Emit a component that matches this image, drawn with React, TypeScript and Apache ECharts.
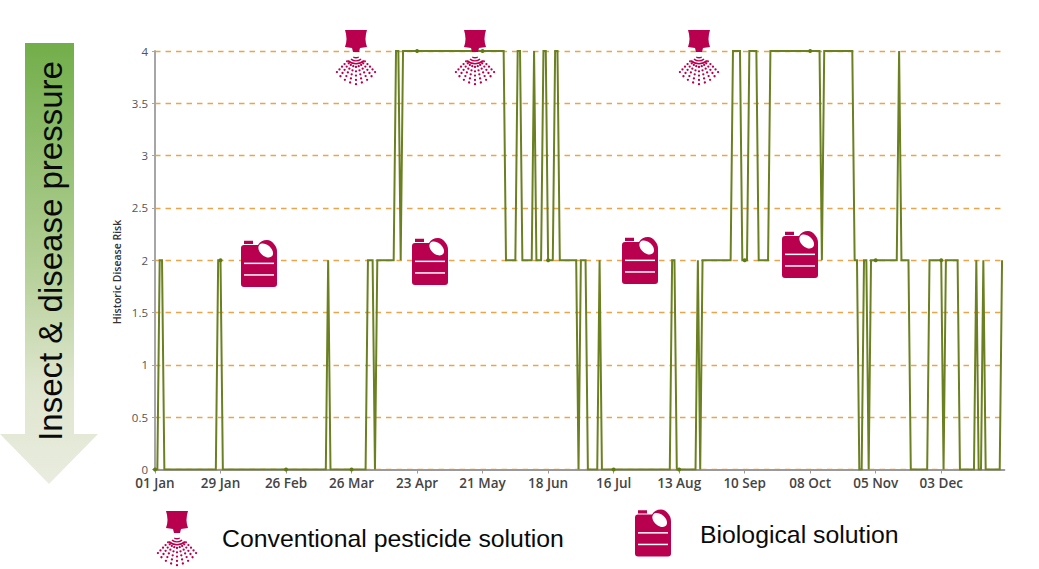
import React, { useEffect, useRef } from "react";
import * as echarts from "echarts";

const tickDays = [0, 28, 56, 84, 112, 140, 168, 196, 224, 252, 280, 308, 336];
const tickLabels = ["01 Jan", "29 Jan", "26 Feb", "26 Mar", "23 Apr", "21 May", "18 Jun", "16 Jul", "13 Aug", "10 Sep", "08 Oct", "05 Nov", "03 Dec"];

// Vertices of the risk line: day of year and its risk level
const days = [
  0, 1, 2, 3, 4, 26, 27, 28, 29, 56, 73, 74, 75, 84, 90, 91, 93, 94, 95, 102, 103, 104, 105, 106, 112, 140, 149, 150,
  154, 155, 156, 157, 161, 162, 163, 165, 166, 167, 168, 170, 171, 172, 173, 180, 181, 182, 184, 185, 189, 190, 191,
  196, 220, 221, 222, 223, 224, 231, 232, 233, 234, 246, 247, 250, 251, 252, 253, 254, 257, 258, 262, 263, 280, 284,
  285, 286, 298, 299, 300, 301, 302, 303, 304, 305, 306, 308, 317, 318, 319, 322, 323, 330, 331, 336, 337, 338, 343,
  344, 350, 351, 352, 353, 354, 355, 361, 362,
];
const risk = [
  0, 0, 2, 2, 0, 0, 2, 2, 0, 0, 0, 2, 0, 0, 0, 2, 2, 0, 2, 2, 4, 4, 2, 4, 4, 4, 4, 2,
  2, 4, 4, 2, 2, 4, 2, 2, 4, 4, 2, 2, 4, 4, 2, 2, 0, 2, 2, 0, 0, 2, 0,
  0, 0, 2, 2, 0, 0, 0, 2, 0, 2, 2, 4, 4, 2, 2, 2, 4, 4, 2, 2, 4, 4, 4,
  2, 4, 4, 2, 2, 0, 0, 2, 2, 0, 2, 2, 2, 4, 2, 2, 0, 0, 2, 2, 0, 2, 2,
  0, 0, 2, 0, 0, 2, 0, 0, 2,
];

const jugPositions = [[241, 240], [412, 238], [622, 237], [782, 231], [635, 509.5]];
const sprayPositions = [[356, 30], [475, 30], [699, 30], [177, 511]];

const magenta = "#b9004f";

const circlePath = (x: number, y: number, r: number) =>
  `M${x - r} ${y}a${r} ${r} 0 1 0 ${2 * r} 0a${r} ${r} 0 1 0 ${-2 * r} 0Z`;

const buildSprayPath = () => {
  let d = "M-11 0L11 0Q8 9 11 17L4 18L3 22L-3 22L-4 18L-11 17Q-8 9 -11 0Z";
  const apex = 22;
  [5, 8, 11].forEach((r, i) => {
    const a = 0.5 + i * 0.12;
    const x = r * Math.sin(a);
    const y = r * Math.cos(a);
    const R = r + 1.4;
    const X = R * Math.sin(a);
    const Y = R * Math.cos(a);
    d += `M${-x} ${apex + y}A${r} ${r} 0 0 0 ${x} ${apex + y}L${X} ${apex + Y}A${R} ${R} 0 0 1 ${-X} ${apex + Y}Z`;
  });
  for (let ray = -4; ray <= 4; ray++) {
    const a = ray * 0.19;
    for (let row = 0; row < 5; row++) {
      const r = (15 + row * 4.3) * (1 - 0.035 * Math.abs(ray));
      d += circlePath(r * Math.sin(a), apex + r * Math.cos(a), 1.15);
    }
  }
  return d;
};

const jugPath =
  "M9 5L17 5Q20 0 26 0Q30 0 33 4Q36 7 36 12L36 44Q36 47 33 47L3 47Q0 47 0 44L0 8Q0 5 3 5Z";
const capPath = "M3 0.7L12 0.7L12 4L3 4Z";

echarts.graphic.registerShape("spray", echarts.graphic.extendPath(buildSprayPath(), {}));
echarts.graphic.registerShape("jug", echarts.graphic.extendPath(jugPath + capPath, {}));

const jugGraphic = (x: number, y: number) => ({
  type: "group",
  x,
  y,
  children: [
    { type: "jug", z: 10, style: { fill: magenta } },
    { type: "ellipse", z: 11, x: 24.7, y: 10.5, rotation: -0.72, shape: { cx: 0, cy: 0, rx: 8.5, ry: 5.5 }, style: { fill: "#fff" } },
    { type: "rect", z: 11, shape: { x: 3, y: 22.6, width: 30, height: 1.5 }, style: { fill: "#fff" } },
    { type: "rect", z: 11, shape: { x: 3, y: 34.2, width: 30, height: 1.5 }, style: { fill: "#fff" } },
  ],
});

export default function App() {
  const ref = useRef<HTMLDivElement>(null);
  useEffect(() => {
    document.body.style.margin = "0";
    const chart = echarts.init(ref.current!, undefined, { renderer: "svg" });
    chart.setOption({
      animation: false,
      backgroundColor: "#ffffff",
      grid: { left: 155, top: 51, width: 849.4, height: 418.5 },
      xAxis: {
        type: "value",
        min: 0,
        max: 363,
        splitLine: { show: false },
        axisLine: { show: true, lineStyle: { color: "#9a9a9a", width: 2 } },
        axisTick: { show: true, customValues: tickDays, length: 4, lineStyle: { color: "#9a9a9a" } },
        axisLabel: {
          customValues: tickDays,
          formatter: (v: number) => tickLabels[tickDays.indexOf(v)] ?? "",
          color: "#444",
          fontFamily: "Open Sans",
          fontWeight: 600,
          fontSize: 13.5,
          lineHeight: 13,
          margin: 7,
        },
      },
      yAxis: {
        type: "value",
        min: 0,
        max: 4,
        interval: 0.5,
        axisLine: { show: true, lineStyle: { color: "#a6a6a6", width: 2 } },
        axisTick: { show: true, length: 3, lineStyle: { color: "#a6a6a6" } },
        axisLabel: { color: "#555", fontFamily: "Open Sans", fontSize: 11.5, margin: 7, lineHeight: 9 },
        splitLine: { show: true, lineStyle: { color: "#eaa54a", width: 1.3, type: [5.5, 5] } },
      },
      series: [
        {
          type: "line",
          data: days.map((d, i) => [d, risk[i]]),
          lineStyle: { color: "#6b8020", width: 2, join: "miter" },
          itemStyle: { color: "#5f7a14" },
          symbol: "circle",
          showSymbol: true,
          showAllSymbol: true,
          symbolSize: (v: number[]) => (tickDays.includes(v[0]) ? 4 : 0),
          z: 3,
        },
      ],
      graphic: [
        {
          type: "polygon",
          shape: { points: [[25, 43], [74, 43], [74, 434], [98, 434], [49, 484], [0, 434], [25, 434]] },
          style: {
            fill: new echarts.graphic.LinearGradient(0, 0, 0, 1, [
              { offset: 0, color: "#72ae4a" },
              { offset: 0.5, color: "#b3cf95" },
              { offset: 0.78, color: "#dfe6cf" },
              { offset: 1, color: "#e9ecdf" },
            ]),
          },
        },
        {
          type: "text",
          x: 50,
          y: 251,
          rotation: Math.PI / 2,
          style: {
            text: "Insect & disease pressure",
            fill: "#0a0a0a",
            font: "33px 'Liberation Sans'",
            align: "center",
            verticalAlign: "middle",
          },
        },
        {
          type: "text",
          x: 117,
          y: 272,
          rotation: Math.PI / 2,
          style: {
            text: "Historic Disease Risk",
            fill: "#333",
            font: "600 10.5px 'Open Sans'",
            align: "center",
            verticalAlign: "middle",
          },
        },
        ...jugPositions.map(([x, y]) => jugGraphic(x, y)),
        ...sprayPositions.map(([x, y]) => ({ type: "spray", x, y, z: 10, style: { fill: magenta } })),
        {
          type: "text",
          x: 222,
          y: 538,
          style: {
            text: "Conventional pesticide solution",
            fill: "#0a0a0a",
            font: "24.8px 'Liberation Sans'",
            align: "left",
            verticalAlign: "middle",
          },
        },
        {
          type: "text",
          x: 700,
          y: 534,
          style: {
            text: "Biological solution",
            fill: "#0a0a0a",
            font: "24.8px 'Liberation Sans'",
            align: "left",
            verticalAlign: "middle",
          },
        },
      ],
    });
    return () => chart.dispose();
  }, []);
  return <div ref={ref} style={{ position: "fixed", left: 0, top: 0, width: 1039, height: 569 }} />;
}
